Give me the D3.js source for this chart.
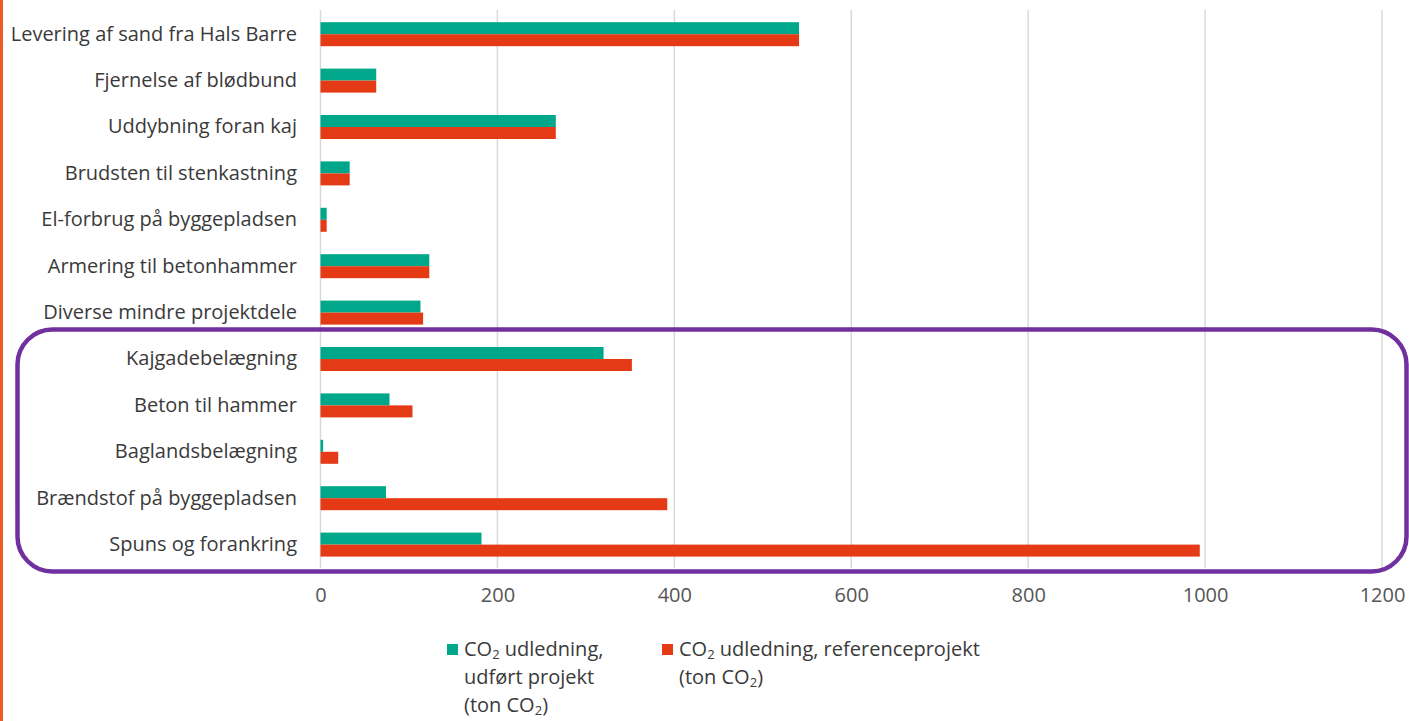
<!DOCTYPE html>
<html>
<head>
<meta charset="utf-8">
<script src="https://cdn.jsdelivr.net/npm/d3@7"></script>
<style>
  html, body { margin: 0; padding: 0; background: #fff; }
  svg { display: block; font-family: "Open Sans", "Noto Sans", sans-serif; }
</style>
</head>
<body>
<svg id="chart" width="1409" height="721"></svg>
<script>
// Project components, top to bottom
const categories = [
  "Levering af sand fra Hals Barre",
  "Fjernelse af blødbund",
  "Uddybning foran kaj",
  "Brudsten til stenkastning",
  "El-forbrug på byggepladsen",
  "Armering til betonhammer",
  "Diverse mindre projektdele",
  "Kajgadebelægning",
  "Beton til hammer",
  "Baglandsbelægning",
  "Brændstof på byggepladsen",
  "Spuns og forankring"
];
// CO2 emissions, executed project (ton CO2)
const doneValues = [541, 63, 266, 33, 7, 123, 113, 320, 78, 3, 74, 182];
// CO2 emissions, reference project (ton CO2)
const refValues  = [541, 63, 266, 33, 7, 123, 116, 352, 104, 20, 392, 994];
const xTicks = [0, 200, 400, 600, 800, 1000, 1200];
const seriesKeys = ["done", "ref"];
const seriesColors = ["#00A78A", "#E53A16"];
// Legend text, one array per line; the middle part of a three-part line is a subscript
const legendLines = [
  [["CO", "2", " udledning,"], ["udført projekt"], ["(ton CO", "2", ")"]],
  [["CO", "2", " udledning, referenceprojekt"], ["(ton CO", "2", ")"]]
];

const FONT = 20;
const svg = d3.select("#chart");

// Orange accent strip on the left edge
svg.append("rect").attr("x", 0).attr("y", 0).attr("width", 3).attr("height", 721).attr("fill", "#EE5A24");

const x = d3.scaleLinear().domain([0, 1200]).range([320.5, 1382]);
const y = d3.scaleBand().domain(categories).range([11, 567.8]);
const ySub = d3.scaleBand().domain(seriesKeys)
  .range([y.bandwidth() / 2 - 12, y.bandwidth() / 2 + 12]);

// Vertical gridlines
svg.append("g").selectAll("line").data(xTicks).join("line")
  .attr("x1", d => x(d)).attr("x2", d => x(d))
  .attr("y1", 10).attr("y2", 568)
  .attr("stroke", "#d9d9d9").attr("stroke-width", 1.5);

// Tick labels
const xAxis = d3.axisBottom(x).tickValues(xTicks).tickFormat(d3.format("d"))
  .tickSize(0).tickPadding(0);
const gx = svg.append("g").attr("transform", "translate(0,588)").call(xAxis);
gx.select(".domain").remove();
gx.selectAll("text").attr("font-size", FONT).attr("fill", "#555555")
  .attr("font-family", "'Open Sans', sans-serif").attr("dy", "0.68em");

// Category labels
const yAxis = d3.axisLeft(y).tickSize(0).tickPadding(0);
const gy = svg.append("g").attr("transform", "translate(297,0)").call(yAxis);
gy.select(".domain").remove();
gy.selectAll("text").attr("font-size", FONT).attr("fill", "#3a3a3a")
  .attr("font-family", "'Open Sans', sans-serif");

// Bars
const rows = categories.map((c, i) => ({ cat: c, values: [doneValues[i], refValues[i]] }));
const groups = svg.append("g").selectAll("g").data(rows).join("g")
  .attr("transform", d => `translate(0,${y(d.cat)})`);
groups.selectAll("rect").data(d => d.values.map((v, k) => ({ key: seriesKeys[k], v, k })))
  .join("rect")
  .attr("x", x(0))
  .attr("y", d => ySub(d.key))
  .attr("width", d => x(d.v) - x(0))
  .attr("height", ySub.bandwidth())
  .attr("fill", d => seriesColors[d.k]);

// Highlight frame around the lower group of components
svg.append("rect")
  .attr("x", 17.5).attr("y", 329.5)
  .attr("width", 1389).attr("height", 242)
  .attr("rx", 35).attr("ry", 35)
  .attr("fill", "none").attr("stroke", "#7030A0").attr("stroke-width", 4.5);

// Legend
const legendX = [447, 662];
const legend = svg.append("g");
legendLines.forEach((lines, i) => {
  const g = legend.append("g").attr("transform", `translate(${legendX[i]},0)`);
  g.append("rect").attr("x", 0).attr("y", 644).attr("width", 11).attr("height", 11)
    .attr("fill", seriesColors[i]);
  lines.forEach((parts, j) => {
    const t = g.append("text").attr("x", 17).attr("y", 656 + j * 28)
      .attr("font-size", FONT).attr("fill", "#3a3a3a");
    parts.forEach((p, k) => {
      if (k === 1) {
        t.append("tspan").attr("font-size", 13).attr("dy", 3).text(p);
      } else if (k === 2) {
        t.append("tspan").attr("dy", -3).text(p);
      } else {
        t.append("tspan").text(p);
      }
    });
  });
});
</script>
</body>
</html>
